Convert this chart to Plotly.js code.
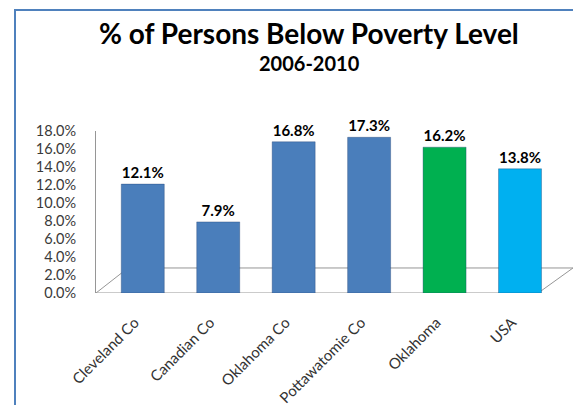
<!DOCTYPE html>
<html>
<head>
<meta charset="utf-8">
<script src="https://cdn.plot.ly/plotly-3.0.1.min.js"></script>
<style>
html,body{margin:0;padding:0;background:#fff;}
#wrap{position:relative;width:573px;height:405px;overflow:hidden;}
#chart{position:absolute;left:0;top:0;width:573px;height:405px;}
#frame{position:absolute;left:14px;top:9px;width:600px;height:420px;border-left:2px solid #4F81BD;border-top:2px solid #4F81BD;pointer-events:none;}
</style>
</head>
<body>
<div id="wrap"><div id="chart"></div><div id="frame"></div></div>
<script>
const categories = ["Cleveland Co", "Canadian Co", "Oklahoma Co", "Pottawatomie Co", "Oklahoma", "USA"];
const values = [12.1, 7.9, 16.8, 17.3, 16.2, 13.8];
const barColors = ["#4A7EBB", "#4A7EBB", "#4A7EBB", "#4A7EBB", "#00B050", "#00B0F0"];
const tickVals = [0, 2, 4, 6, 8, 10, 12, 14, 16, 18];
const tickText = tickVals.map(v => v.toFixed(1) + "%");
const titleText = "% of Persons Below Poverty Level";
const subtitleText = "2006-2010";

const FONT = "Lato, 'Open Sans', sans-serif";
const floorDepth = 2.78; // floor depth expressed in y units (decorative 3D floor)

const trace = {
  type: "bar",
  x: categories,
  y: values,
  width: 0.57,
  marker: {color: barColors, line: {color: "rgba(30,60,110,0.35)", width: 1}},
  text: values.map(v => v.toFixed(1) + "%"),
  textposition: "outside",
  cliponaxis: false,
  textfont: {family: FONT, size: 15, color: "#000", weight: "bold"},
  hoverinfo: "skip"
};

const floorLine = {color: "#969696", width: 1};
const layout = {
  width: 573, height: 405,
  margin: {l: 96, r: 13, t: 131, b: 112},
  paper_bgcolor: "#fff", plot_bgcolor: "rgba(0,0,0,0)",
  showlegend: false,
  font: {family: FONT, color: "#333"},
  xaxis: {
    type: "category",
    range: [-0.62, 5.53],
    tickangle: -45,
    tickfont: {family: FONT, size: 15, color: "#333"},
    ticklabelstandoff: 17,
    ticklabelshift: -8,
    showline: false,
    ticks: "", showgrid: false, zeroline: false
  },
  yaxis: {
    range: [0, 18],
    tickvals: tickVals,
    ticktext: tickText,
    tickfont: {family: FONT, size: 14.5, color: "#3a3a3a"},
    showline: true, linecolor: "#969696", linewidth: 1,
    ticks: "", showgrid: false, zeroline: false,
    ticklabelstandoff: 16
  },
  shapes: [
    {type: "line", layer: "below", xref: "paper", yref: "y", x0: 0, y0: 0, x1: 0.953, y1: 0, line: floorLine},
    {type: "line", layer: "below", xref: "paper", yref: "y", x0: 0, y0: 0, x1: 0.069, y1: floorDepth, line: floorLine},
    {type: "line", layer: "below", xref: "paper", yref: "y", x0: 0.069, y0: floorDepth, x1: 1.06, y1: floorDepth, line: floorLine},
    {type: "line", layer: "below", xref: "paper", yref: "y", x0: 0.953, y0: 0, x1: 1.028, y1: floorDepth, line: floorLine}
  ],
  annotations: [
    {text: titleText, xref: "paper", yref: "paper", x: 0.46, y: 1, yanchor: "middle", yshift: 98, showarrow: false,
     font: {family: FONT, size: 28, color: "#000", weight: "bold"}},
    {text: subtitleText, xref: "paper", yref: "paper", x: 0.46, y: 1, yanchor: "middle", yshift: 68, showarrow: false,
     font: {family: FONT, size: 20, color: "#000", weight: "bold"}}
  ]
};

Plotly.newPlot("chart", [trace], layout, {displayModeBar: false, staticPlot: true});
</script>
</body>
</html>
